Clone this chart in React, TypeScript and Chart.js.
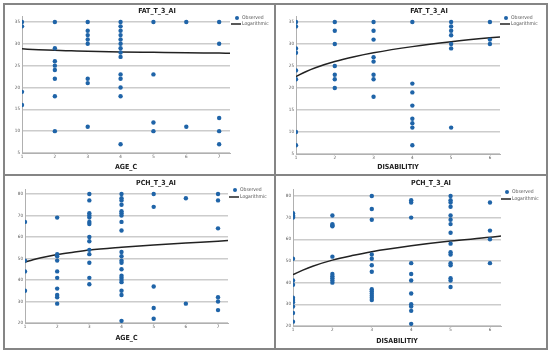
import React, { useEffect, useRef } from "react";
import { Chart, registerables } from "chart.js";

Chart.register(...registerables);

const FONT = "'Liberation Sans Narrow', 'DejaVu Sans Condensed', 'Liberation Sans', Arial, sans-serif";

// ---- categories & tick labels ----
const ageCategories = [1, 2, 3, 4, 5, 6, 7];
const disabilityCategories = [1, 2, 3, 4, 5, 6];
const fatTicks = [5, 10, 15, 20, 25, 30, 35];
const pchTicks = [20, 30, 40, 50, 60, 70, 80];

// ---- observed values, one list per category ----
const fatByAge = [
  [35, 34, 19, 16],
  [35, 29, 26, 25, 24, 22, 18, 10],
  [35, 33, 32, 31, 30, 22, 21, 11],
  [35, 34, 33, 32, 31, 30, 29, 28, 27, 23, 22, 20, 18, 7],
  [35, 23, 12, 10],
  [35, 11],
  [35, 30, 13, 10, 7],
];
const fatByDisability = [
  [35, 34, 29, 28, 24, 22, 10, 7],
  [35, 33, 30, 25, 23, 22, 20],
  [35, 33, 31, 27, 26, 23, 22, 18],
  [35, 21, 19, 16, 13, 12, 11, 7],
  [35, 34, 33, 32, 30, 29, 11],
  [35, 31, 30],
];
const pchByAge = [
  [67, 49, 44, 35],
  [69, 52, 51, 49, 44, 41, 36, 33, 32, 29],
  [80, 77, 71, 70, 69, 67, 66, 60, 58, 54, 52, 48, 41, 38],
  [80, 78, 77, 75, 72, 71, 70, 67, 63, 53, 51, 49, 48, 45, 42, 41, 40, 39, 35, 33, 21],
  [80, 74, 37, 27, 22],
  [78, 29],
  [80, 77, 64, 32, 30, 26],
];
const pchByDisability = [
  [72, 71, 70.5, 70, 51, 41, 39, 33, 32, 31, 29, 26, 22],
  [71, 67, 66.5, 66, 52, 44, 43, 42, 41, 40],
  [80, 74, 69, 53, 51, 48, 45, 37, 36, 35, 34, 33, 32],
  [78, 77, 70, 49, 44, 41, 35, 30, 29, 27, 21],
  [80, 78, 77, 75, 71, 69, 67, 63, 58, 54, 53, 49, 48, 42, 41, 38],
  [77, 64, 60, 49],
];

// ---- logarithmic fit curves ----
const fatAgeLogX = [1, 1.5, 2, 2.5, 3, 4, 5, 6, 7, 7.33];
const fatAgeLogY = [28.85, 28.65, 28.5, 28.4, 28.3, 28.15, 28.05, 27.95, 27.88, 27.85];
const fatDisLogX = [1, 1.25, 1.5, 2, 2.5, 3, 4, 5, 6, 6.26];
const fatDisLogY = [22.6, 23.7, 24.6, 26.0, 27.1, 28.0, 29.4, 30.5, 31.4, 31.6];
const pchAgeLogX = [1, 1.25, 1.5, 2, 2.5, 3, 4, 5, 6, 7, 7.31];
const pchAgeLogY = [48.3, 49.4, 50.3, 51.8, 52.9, 53.9, 55.2, 56.3, 57.2, 58.0, 58.3];
const pchDisLogX = [1, 1.25, 1.5, 2, 2.5, 3, 4, 5, 6, 6.28];
const pchDisLogY = [43.7, 45.8, 47.6, 50.4, 52.5, 54.3, 57.0, 59.2, 60.9, 61.5];

const POINT_COLOR = "#1f64a8";

const decorPlugin = {
  id: "panelDecor",
  afterDraw(chart: any, _args: any, opts: any) {
    const ctx = chart.ctx as CanvasRenderingContext2D;
    ctx.save();
    ctx.fillStyle = "#222";
    ctx.font = `bold 7px ${FONT}`;
    ctx.textAlign = "center";
    ctx.textBaseline = "middle";
    ctx.fillText(opts.title, opts.titleX, opts.titleY);
    // legend
    const mx = opts.legX;
    const y1 = opts.legY1;
    const y2 = opts.legY2;
    ctx.fillStyle = POINT_COLOR;
    ctx.beginPath();
    ctx.arc(mx, y1, 2, 0, Math.PI * 2);
    ctx.fill();
    ctx.strokeStyle = "#222";
    ctx.lineWidth = 1.5;
    ctx.beginPath();
    ctx.moveTo(mx - 6, y2);
    ctx.lineTo(mx + 4, y2);
    ctx.stroke();
    ctx.fillStyle = "#555";
    ctx.font = `5px ${FONT}`;
    ctx.textAlign = "left";
    ctx.fillText("Observed", mx + 5, y1);
    ctx.fillText("Logarithmic", mx + 5, y2);
    ctx.restore();
  },
};

type PanelProps = {
  left: number;
  top: number;
  title: string;
  xTitle: string;
  cats: number[];
  groups: number[][];
  logX: number[];
  logY: number[];
  yTicks: number[];
  yMin: number;
  yMax: number;
  xMax: number;
  area: { l: number; r: number; t: number; b: number; xh: number };
  deco: { titleX: number; titleY: number; legX: number; legY1: number; legY2: number };
};

const W = 270;
const H = 170;

function Panel(p: PanelProps) {
  const ref = useRef<HTMLCanvasElement>(null);
  useEffect(() => {
    if (!ref.current) return;
    const pts: { x: number; y: number }[] = [];
    p.groups.forEach((vals, i) => vals.forEach((v) => pts.push({ x: p.cats[i], y: v })));
    const curve = p.logX.map((x, i) => ({ x, y: p.logY[i] }));
    const tickFont = { size: 4.5, family: FONT };
    const chart = new Chart(ref.current, {
      type: "scatter",
      data: {
        datasets: [
          {
            type: "scatter",
            label: "Observed",
            data: pts,
            backgroundColor: POINT_COLOR,
            borderColor: POINT_COLOR,
            borderWidth: 0,
            pointRadius: 2.2,
          },
          {
            type: "line",
            label: "Logarithmic",
            data: curve,
            borderColor: "#222",
            borderWidth: 1.5,
            pointRadius: 0,
            fill: false,
            cubicInterpolationMode: "monotone",
          } as any,
        ],
      },
      options: {
        animation: false,
        responsive: false,
        maintainAspectRatio: false,
        layout: {
          padding: { left: 0, right: W - p.area.r, top: p.area.t, bottom: H - p.area.b - p.area.xh },
        },
        plugins: {
          legend: { display: false },
          tooltip: { enabled: false },
          panelDecor: { title: p.title, ...p.deco },
        } as any,
        scales: {
          x: {
            type: "linear",
            min: 1,
            max: p.xMax,
            afterBuildTicks: (s: any) => {
              s.ticks = p.cats.map((v) => ({ value: v }));
            },
            afterFit: (s: any) => {
              s.height = p.area.xh;
            },
            grid: { display: true, drawOnChartArea: false, drawTicks: false },
            border: { display: true, color: "#b0b0b0", width: 1 },
            ticks: { font: tickFont, color: "#555", padding: 1.5, maxRotation: 0, autoSkip: false },
            title: {
              display: true,
              text: p.xTitle,
              color: "#222",
              font: { size: 7, weight: "bold", family: FONT },
              padding: 0,
            },
          },
          y: {
            type: "linear",
            min: p.yMin,
            max: p.yMax,
            afterBuildTicks: (s: any) => {
              s.ticks = p.yTicks.map((v) => ({ value: v }));
            },
            afterFit: (s: any) => {
              s.width = p.area.l;
            },
            grid: { display: true, drawOnChartArea: true, color: "#cccccc", lineWidth: 1.5, drawTicks: false },
            border: { display: true, color: "#b0b0b0", width: 1 },
            ticks: { font: tickFont, color: "#555", padding: 2 },
          },
        },
      },
      plugins: [decorPlugin],
    } as any);
    return () => chart.destroy();
  }, []);
  return (
    <canvas
      ref={ref}
      width={W}
      height={H}
      style={{ position: "absolute", left: p.left, top: p.top, width: W, height: H }}
    />
  );
}

export default function App() {
  const border = "#858585";
  return (
    <div style={{ position: "absolute", left: 0, top: 0, width: 550, height: 352, background: "#fff", overflow: "hidden" }}>
      <Panel
        left={5}
        top={5}
        title="FAT_T_3_AI"
        xTitle="AGE_C"
        cats={ageCategories}
        groups={fatByAge}
        logX={fatAgeLogX}
        logY={fatAgeLogY}
        yTicks={fatTicks}
        yMin={5}
        yMax={36.37}
        xMax={7.33}
        area={{ l: 17, r: 225, t: 11, b: 148, xh: 18.2 }}
        deco={{ titleX: 152, titleY: 6, legX: 232, legY1: 13, legY2: 19 }}
      />
      <Panel
        left={276}
        top={5}
        title="FAT_T_3_AI"
        xTitle="DISABILITIY"
        cats={disabilityCategories}
        groups={fatByDisability}
        logX={fatDisLogX}
        logY={fatDisLogY}
        yTicks={fatTicks}
        yMin={5}
        yMax={36.36}
        xMax={6.26}
        area={{ l: 20, r: 224, t: 11, b: 149, xh: 17.2 }}
        deco={{ titleX: 153, titleY: 6, legX: 230, legY1: 13, legY2: 19 }}
      />
      <Panel
        left={5}
        top={176}
        title="PCH_T_3_AI"
        xTitle="AGE_C"
        cats={ageCategories}
        groups={pchByAge}
        logX={pchAgeLogX}
        logY={pchAgeLogY}
        yTicks={pchTicks}
        yMin={20}
        yMax={82.3}
        xMax={7.31}
        area={{ l: 20, r: 223, t: 13, b: 147, xh: 19.2 }}
        deco={{ titleX: 151, titleY: 7, legX: 230, legY1: 14, legY2: 21 }}
      />
      <Panel
        left={276}
        top={176}
        title="PCH_T_3_AI"
        xTitle="DISABILITIY"
        cats={disabilityCategories}
        groups={pchByDisability}
        logX={pchDisLogX}
        logY={pchDisLogY}
        yTicks={pchTicks}
        yMin={20}
        yMax={83.2}
        xMax={6.28}
        area={{ l: 17, r: 225, t: 13, b: 150, xh: 19.2 }}
        deco={{ titleX: 155, titleY: 7, legX: 231, legY1: 16, legY2: 23 }}
      />
      <div style={{ position: "absolute", left: 3, top: 3, width: 545, height: 347, border: `2px solid ${border}`, boxSizing: "border-box" }} />
      <div style={{ position: "absolute", left: 274, top: 3, width: 2, height: 347, background: border }} />
      <div style={{ position: "absolute", left: 3, top: 174, width: 545, height: 2, background: border }} />
    </div>
  );
}
